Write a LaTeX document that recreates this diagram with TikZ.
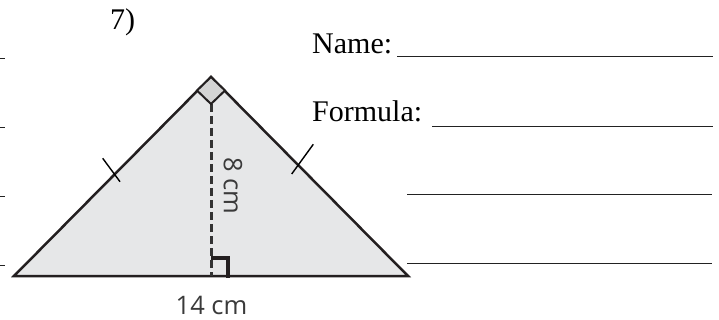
\documentclass[tikz,border=0pt]{standalone}
\usepackage{fontspec}
\setmainfont{Liberation Serif}
\newfontfamily\labelfont{Open Sans}
\begin{document}
\begin{tikzpicture}[x=1pt,y=-1pt,
  tri/.style={draw=linedark,line width=2.5pt,line join=miter,fill=trifill},
  rightmark/.style={draw=linedark,line width=2pt,fill=markfill},
  basemark/.style={draw=linedark,line width=3.5pt,line cap=butt},
  altitude/.style={draw=dashdark,line width=3pt,dash pattern=on 8pt off 4pt},
  tickmark/.style={draw=black,line width=1.4pt},
  blank/.style={draw=ruledark,line width=1.4pt},
  serifbig/.style={font=\fontsize{30}{34}\selectfont,text=black,inner sep=0pt},
  dimlabel/.style={font=\labelfont\fontsize{25.5}{28}\selectfont,text=labelgray,inner sep=0pt}]
\definecolor{linedark}{HTML}{231F20}
\definecolor{trifill}{HTML}{E6E7E8}
\definecolor{markfill}{HTML}{D4D4D4}
\definecolor{dashdark}{HTML}{333333}
\definecolor{ruledark}{HTML}{222222}
\definecolor{labelgray}{HTML}{3A3A3A}
\useasboundingbox (0,0) rectangle (719,320);
% triangle
\coordinate (L) at (14,276);
\coordinate (R) at (408,276);
\coordinate (A) at (211,77);
\coordinate (F) at (211,276);
\coordinate (D) at (211,104);
\draw[tri] (L) -- (A) -- (R) -- cycle;
% altitude
\draw[altitude] (D) -- (F);
% right angle at apex
\draw[rightmark] (A) -- (225,90.5) -- (D) -- (197,90.5) -- cycle;
% right angle at foot
\draw[basemark] (211,258) -- (228,258) -- (228,277.5);
% congruence ticks
\draw[tickmark] (102.7,158.3) -- (120,181.7);
\draw[tickmark] (313.3,144.3) -- (291.7,174);
% labels
\node[dimlabel,rotate=-90] (h) at (233,186) {8 cm};
\node[dimlabel] (b) at (211.5,305.5) {14 cm};
\node[serifbig,anchor=base west] (num) at (110,30) {7)};
\node[serifbig,anchor=base west] (name) at (312,54) {Name:};
\node[serifbig,anchor=base west] (formula) at (312,122) {Formula:};
% answer lines
\draw[blank] (397,56.5) -- (713,56.5);
\draw[blank] (432,126.5) -- (713,126.5);
\draw[blank] (407,194.5) -- (712,194.5);
\draw[blank] (407,263.5) -- (712,263.5);
% clipped line ends at the left edge
\draw[blank] (0,58.5) -- (5,58.5);
\draw[blank] (0,127.5) -- (5,127.5);
\draw[blank] (0,196.5) -- (5,196.5);
\draw[blank] (0,265.5) -- (5,265.5);
\end{tikzpicture}
\end{document}
